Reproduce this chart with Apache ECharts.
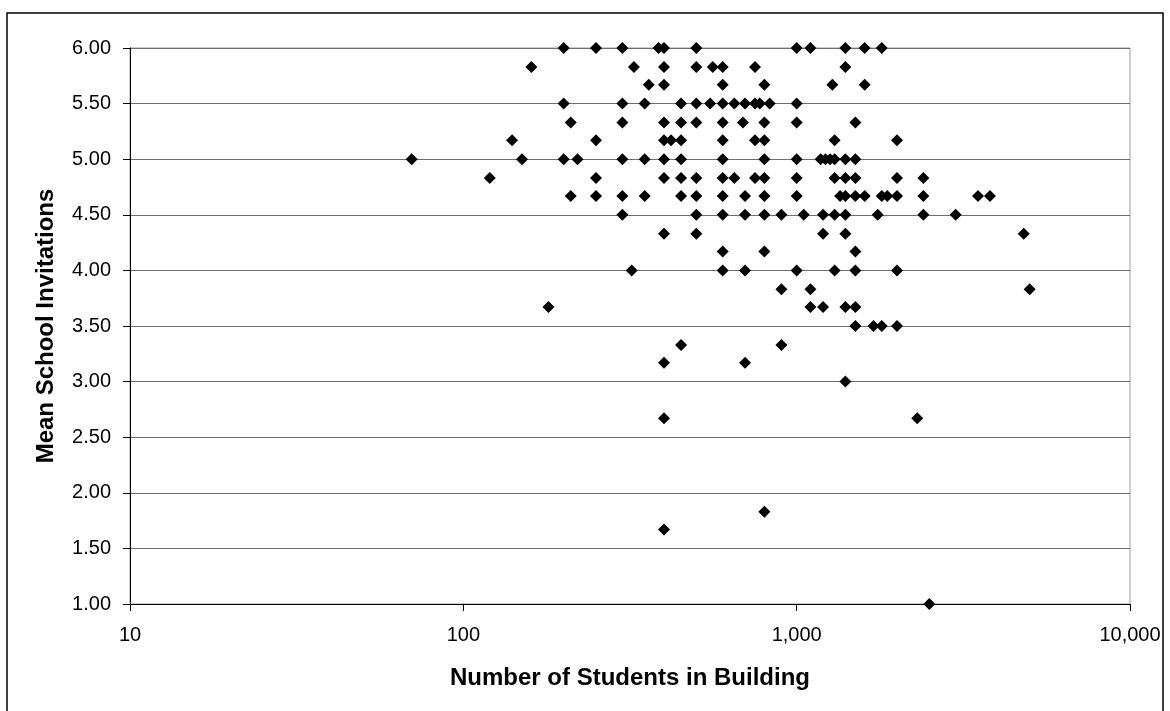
<!DOCTYPE html>
<html>
<head>
<meta charset="utf-8">
<style>
  html, body { margin: 0; padding: 0; background: #fff; }
  #chart { width: 1170px; height: 711px; }
</style>
<script src="https://cdn.jsdelivr.net/npm/echarts/dist/echarts.min.js"></script>
</head>
<body>
<div id="chart"></div>
<script>
// School size vs. mean invitations, one entry per building.
const students = [
  // 6.00
  200, 250, 300, 385, 400, 500, 1000, 1100, 1400, 1600, 1800,
  // 5.83
  160, 325, 400, 500, 560, 600, 750, 1400,
  // 5.67
  360, 400, 600, 800, 1280, 1600,
  // 5.50
  200, 300, 350, 450, 500, 550, 600, 650, 700, 750, 775, 830, 1000,
  // 5.33
  210, 300, 400, 450, 500, 600, 690, 800, 1000, 1500,
  // 5.17
  140, 250, 400, 420, 450, 600, 750, 800, 1300, 2000,
  // 5.00
  70, 150, 200, 220, 300, 350, 400, 450, 600, 800, 1000, 1180, 1220, 1260, 1300, 1400, 1500,
  // 4.83
  120, 250, 400, 450, 500, 600, 650, 750, 800, 1000, 1300, 1400, 1500, 2000, 2400,
  // 4.67
  210, 250, 300, 350, 450, 500, 600, 700, 800, 1000, 1350, 1400, 1500, 1600, 1800, 1870, 2000, 2400, 3500, 3800,
  // 4.50
  300, 500, 600, 700, 800, 900, 1050, 1200, 1300, 1400, 1750, 2400, 3000,
  // 4.33
  400, 500, 1200, 1400, 4800,
  // 4.17
  600, 800, 1500,
  // 4.00
  320, 600, 700, 1000, 1300, 1500, 2000,
  // 3.83
  900, 1100, 5000,
  // 3.67
  180, 1100, 1200, 1400, 1500,
  // 3.50
  1500, 1700, 1800, 2000,
  // 3.33
  450, 900,
  // 3.17
  400, 700,
  // 3.00
  1400,
  // 2.67
  400, 2300,
  // 1.83
  800,
  // 1.67
  400,
  // 1.00
  2500
];

const invitations = [
  6.00, 6.00, 6.00, 6.00, 6.00, 6.00, 6.00, 6.00, 6.00, 6.00, 6.00,
  5.83, 5.83, 5.83, 5.83, 5.83, 5.83, 5.83, 5.83,
  5.67, 5.67, 5.67, 5.67, 5.67, 5.67,
  5.50, 5.50, 5.50, 5.50, 5.50, 5.50, 5.50, 5.50, 5.50, 5.50, 5.50, 5.50, 5.50,
  5.33, 5.33, 5.33, 5.33, 5.33, 5.33, 5.33, 5.33, 5.33, 5.33,
  5.17, 5.17, 5.17, 5.17, 5.17, 5.17, 5.17, 5.17, 5.17, 5.17,
  5.00, 5.00, 5.00, 5.00, 5.00, 5.00, 5.00, 5.00, 5.00, 5.00, 5.00, 5.00, 5.00, 5.00, 5.00, 5.00, 5.00,
  4.83, 4.83, 4.83, 4.83, 4.83, 4.83, 4.83, 4.83, 4.83, 4.83, 4.83, 4.83, 4.83, 4.83, 4.83,
  4.67, 4.67, 4.67, 4.67, 4.67, 4.67, 4.67, 4.67, 4.67, 4.67, 4.67, 4.67, 4.67, 4.67, 4.67, 4.67, 4.67, 4.67, 4.67, 4.67,
  4.50, 4.50, 4.50, 4.50, 4.50, 4.50, 4.50, 4.50, 4.50, 4.50, 4.50, 4.50, 4.50,
  4.33, 4.33, 4.33, 4.33, 4.33,
  4.17, 4.17, 4.17,
  4.00, 4.00, 4.00, 4.00, 4.00, 4.00, 4.00,
  3.83, 3.83, 3.83,
  3.67, 3.67, 3.67, 3.67, 3.67,
  3.50, 3.50, 3.50, 3.50,
  3.33, 3.33,
  3.17, 3.17,
  3.00,
  2.67, 2.67,
  1.83,
  1.67,
  1.00
];

const xTitle = 'Number of Students in Building';
const yTitle = 'Mean School Invitations';

const points = students.map((s, i) => [s, invitations[i]]);

const FONT = '"Liberation Sans", Arial, Helvetica, sans-serif';

const chart = echarts.init(document.getElementById('chart'), null, { renderer: 'canvas' });

chart.setOption({
  animation: false,
  backgroundColor: '#ffffff',
  graphic: [{
    type: 'rect',
    shape: { x: 7, y: 13, width: 1156, height: 720 },
    style: { fill: 'none', stroke: '#000', lineWidth: 1.5 },
    silent: true,
    z: -1
  }],
  grid: {
    left: 130, right: 40, top: 48, bottom: 107,
    show: true,
    borderColor: '#9a9a9a',
    borderWidth: 1,
    backgroundColor: 'transparent'
  },
  xAxis: {
    type: 'log',
    logBase: 10,
    min: 10,
    max: 10000,
    name: xTitle,
    nameLocation: 'middle',
    nameGap: 62,
    nameTextStyle: { fontFamily: FONT, fontSize: 24, fontWeight: 'bold', color: '#000' },
    axisLine: { show: true, lineStyle: { color: '#000', width: 1 } },
    axisTick: { show: true, inside: false, length: 7, lineStyle: { color: '#000' } },
    minorTick: { show: false },
    splitLine: { show: false },
    axisLabel: {
      fontFamily: FONT, fontSize: 20, color: '#000', margin: 21,
      formatter: v => Number(v).toLocaleString('en-US')
    }
  },
  yAxis: {
    type: 'value',
    min: 1,
    max: 6,
    interval: 0.5,
    name: yTitle,
    nameLocation: 'middle',
    nameGap: 72,
    nameRotate: 90,
    nameTextStyle: { fontFamily: FONT, fontSize: 24, fontWeight: 'bold', color: '#000' },
    axisLine: { show: true, lineStyle: { color: '#000', width: 1 } },
    axisTick: { show: true, inside: false, length: 7, lineStyle: { color: '#000' } },
    splitLine: { show: true, lineStyle: { color: '#6e6e6e', width: 1 } },
    axisLabel: {
      fontFamily: FONT, fontSize: 20, color: '#000', margin: 19,
      formatter: v => v.toFixed(2)
    }
  },
  series: [{
    type: 'scatter',
    data: points,
    symbol: 'diamond',
    symbolSize: 12,
    itemStyle: { color: '#000', opacity: 1 },
    emphasis: { disabled: true }
  }]
});
</script>
</body>
</html>
